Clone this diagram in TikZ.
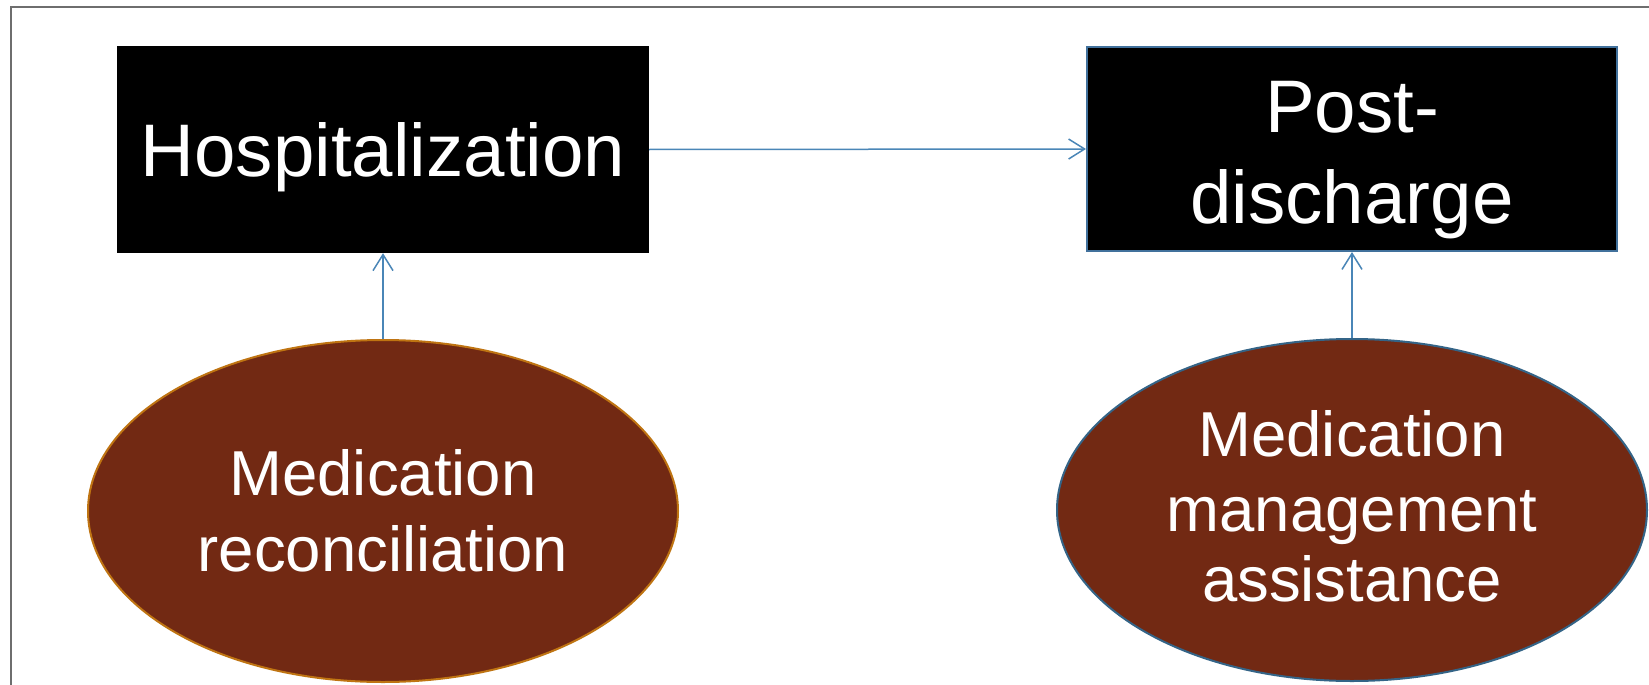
\documentclass[tikz,border=0pt]{standalone}
\usepackage{fontspec}
\setmainfont{Liberation Sans}
\usetikzlibrary{arrows.meta,shapes.geometric}
\definecolor{arrowblue}{RGB}{74,134,183}
\definecolor{framegray}{RGB}{110,110,110}
\definecolor{boxblue}{RGB}{65,113,156}
\definecolor{ovalfill}{RGB}{114,41,19}
\definecolor{ovalorange}{RGB}{191,116,18}
\definecolor{ovalblue}{RGB}{52,100,135}
\tikzset{
  blackbox/.style={rectangle, fill=black, inner sep=0pt},
  oval/.style={ellipse, fill=ovalfill, line width=2pt, inner sep=0pt,
    minimum width=590pt, minimum height=342pt},
  conn/.style={draw=arrowblue, line width=1.5pt,
    -{Straight Barb[length=16pt,width=20pt,line width=1.5pt]}},
  bigtxt/.style={text=white, inner sep=0pt, anchor=base,
    font=\fontsize{74.5}{90}\selectfont},
  medtxt/.style={text=white, inner sep=0pt, anchor=base,
    font=\fontsize{63.5}{75}\selectfont}
}
\begin{document}
\begin{tikzpicture}[x=1pt,y=-1pt]
\useasboundingbox (0,0) rectangle (1649,685);
\fill[white] (0,0) rectangle (1649,685);
\draw[framegray, line width=2pt] (11,700) -- (11,7) -- (1660,7);

\node[blackbox, minimum width=532pt, minimum height=207pt] (hosp) at (383,149.5) {};
\node[blackbox, draw=boxblue, line width=2pt, minimum width=530pt, minimum height=204pt] (post) at (1352,149) {};

\node[oval, draw=ovalorange] (recon) at (383,511) {};
\node[oval, draw=ovalblue] (assist) at (1352,510) {};

\draw[conn] (hosp.east) -- (post.west);
\draw[conn] (recon.north) -- (hosp.south);
\draw[conn] (assist.north) -- (post.south);

\node[bigtxt] (thosp) at (383,176) {Hospitalization};
\node[bigtxt] (tpost1) at (1352,132) {Post-};
\node[bigtxt] (tpost2) at (1352,223) {discharge};

\node[medtxt] (trecon1) at (383,495) {Medication};
\node[medtxt] (trecon2) at (383,571.5) {reconciliation};

\node[medtxt] (tassist1) at (1352,456.5) {Medication};
\node[medtxt] (tassist2) at (1352,531.5) {management};
\node[medtxt] (tassist3) at (1352,601.5) {assistance};
\end{tikzpicture}
\end{document}
